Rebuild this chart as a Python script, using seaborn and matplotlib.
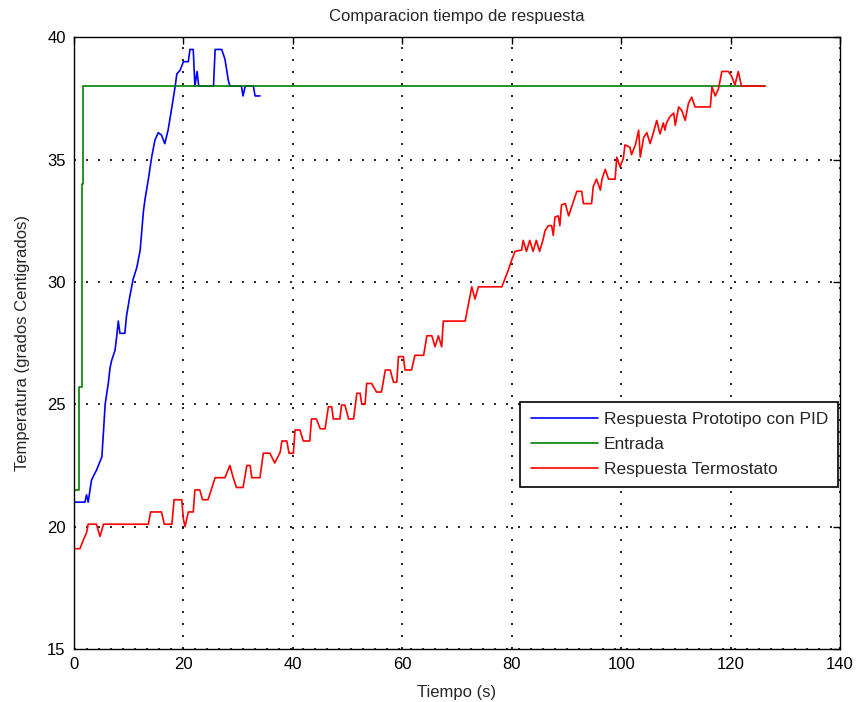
import matplotlib
matplotlib.use("Agg")
import matplotlib.pyplot as plt
import seaborn as sns
import pandas as pd

# ---- data ----
pid_t = [0, 2.0, 2.3, 2.6, 3.2, 4.1, 5.1, 5.4, 5.7, 6.3,
         6.6, 6.9, 7.5, 7.8, 8.1, 8.4, 9.3, 9.6, 10.2, 10.8,
         11.5, 12.1, 12.4, 12.7, 13.0, 13.6, 14.2, 14.8, 15.4, 16.0,
         16.6, 17.2, 17.9, 18.5, 18.8, 19.4, 20.0, 20.9, 21.2, 21.8,
         22.1, 22.5, 22.8, 25.5, 25.8, 27.0, 27.6, 28.2, 28.5, 30.6,
         30.9, 31.3, 32.8, 33.1, 34.0]
pid_y = [21.0, 21.0, 21.3, 21.0, 21.9, 22.3, 22.85, 23.9, 25.0, 25.9,
         26.5, 26.8, 27.2, 27.75, 28.4, 27.9, 27.9, 28.6, 29.4, 30.1,
         30.6, 31.3, 32.1, 32.9, 33.4, 34.2, 35.1, 35.8, 36.1, 36.0,
         35.65, 36.2, 37.15, 38.0, 38.5, 38.65, 39.0, 39.0, 39.5, 39.5,
         38.0, 38.6, 38.0, 38.0, 39.5, 39.5, 39.1, 38.25, 38.0, 38.0,
         37.6, 38.0, 38.0, 37.6, 37.6]

ent_t = [0, 1.0, 1.0, 1.4, 1.4, 1.7, 1.7, 126.3]
ent_y = [21.5, 21.5, 25.7, 25.7, 34.0, 34.0, 38.0, 38.0]

ter_t = [0, 1.1, 1.7, 2.3, 2.6, 4.1, 4.75, 5.4, 13.6, 14.0,
         16.0, 16.5, 17.9, 18.3, 19.7, 20.0, 20.3, 20.9, 21.8, 22.1,
         23.0, 23.5, 24.5, 25.8, 27.6, 28.5, 29.1, 29.7, 30.9, 31.6,
         32.2, 32.5, 34.0, 34.6, 35.8, 36.7, 37.7, 38.0, 38.9, 39.3,
         40.1, 40.4, 41.3, 41.9, 43.1, 43.4, 44.3, 45.0, 45.9, 46.5,
         47.1, 47.4, 48.6, 48.9, 49.5, 50.2, 51.1, 51.7, 52.3, 52.6,
         53.2, 53.5, 54.4, 55.3, 56.2, 56.9, 57.8, 58.4, 59.0, 59.3,
         60.2, 60.5, 61.7, 62.3, 63.9, 64.5, 65.4, 66.0, 66.6, 67.2,
         67.5, 71.5, 72.1, 72.7, 73.3, 73.9, 78.2, 78.8, 79.4, 80.0,
         80.6, 81.8, 82.1, 82.7, 83.3, 83.9, 84.5, 85.1, 85.7, 86.1,
         86.7, 87.3, 87.6, 87.9, 88.5, 88.8, 89.1, 89.8, 90.4, 91.3,
         91.9, 92.8, 93.1, 94.6, 94.9, 95.5, 96.2, 96.5, 97.1, 97.7,
         98.9, 99.2, 99.8, 100.4, 100.7, 101.6, 101.9, 102.6, 103.2, 103.5,
         104.1, 104.7, 105.3, 105.9, 106.5, 107.1, 107.7, 108.0, 108.3, 108.9,
         109.6, 109.9, 110.5, 111.1, 111.7, 112.3, 112.9, 113.5, 116.3, 116.6,
         117.2, 117.8, 118.4, 119.6, 120.2, 120.8, 121.4, 122.0, 126.3]
ter_y = [19.1, 19.1, 19.45, 19.75, 20.1, 20.1, 19.6, 20.1, 20.1, 20.6,
         20.6, 20.1, 20.1, 21.1, 21.1, 20.3, 20.0, 20.6, 20.6, 21.5,
         21.5, 21.1, 21.1, 22.0, 22.0, 22.5, 22.0, 21.6, 21.6, 22.5,
         22.5, 22.0, 22.0, 23.0, 23.0, 22.6, 23.05, 23.5, 23.5, 23.0,
         23.0, 23.95, 23.95, 23.5, 23.5, 24.4, 24.4, 24.0, 24.0, 24.9,
         24.9, 24.4, 24.4, 24.97, 24.97, 24.4, 24.4, 25.45, 25.45, 25.0,
         25.0, 25.85, 25.85, 25.5, 25.5, 26.4, 26.4, 25.9, 25.9, 26.95,
         26.95, 26.4, 26.4, 27.0, 27.0, 27.8, 27.8, 27.35, 27.8, 27.35,
         28.4, 28.4, 29.1, 29.8, 29.3, 29.8, 29.8, 30.15, 30.5, 30.9,
         31.25, 31.3, 31.7, 31.25, 31.7, 31.25, 31.7, 31.25, 31.7, 32.1,
         32.3, 32.3, 31.9, 32.65, 32.7, 32.3, 33.15, 33.2, 32.7, 33.3,
         33.7, 33.7, 33.2, 33.2, 33.9, 34.2, 33.75, 34.2, 34.6, 34.2,
         34.2, 35.1, 34.7, 35.05, 35.6, 35.5, 35.2, 35.6, 36.2, 35.1,
         35.9, 36.1, 35.65, 36.1, 36.6, 36.05, 36.5, 36.2, 36.5, 36.75,
         36.9, 36.4, 37.15, 37.0, 36.6, 37.3, 37.55, 37.15, 37.15, 37.97,
         37.6, 37.9, 38.6, 38.6, 38.4, 38.05, 38.6, 38.0, 38.0]

series_names = ["Respuesta Prototipo con PID", "Entrada", "Respuesta Termostato"]
series_colors = ["#0000ff", "#008000", "#ff0000"]
x_ticks = [0, 20, 40, 60, 80, 100, 120, 140]
y_ticks = [15, 20, 25, 30, 35, 40]

# ---- plot ----
sns.set_style("white")
plt.rcParams["font.family"] = ["Liberation Sans Narrow", "Liberation Sans", "DejaVu Sans"]

fig = plt.figure(figsize=(8.62, 7.02), dpi=100)
ax = fig.add_axes([0.0858, 0.0755, 0.8887, 0.8715])

frames = [
    pd.DataFrame({"t": pid_t, "y": pid_y}),
    pd.DataFrame({"t": ent_t, "y": ent_y}),
    pd.DataFrame({"t": ter_t, "y": ter_y}),
]
for df, name, col in zip(frames, series_names, series_colors):
    sns.lineplot(data=df, x="t", y="y", ax=ax, sort=False, estimator=None,
                 color=col, linewidth=1.2, label=name)

ax.set_xlim(0, 140)
ax.set_ylim(15, 40)
ax.set_xticks(x_ticks)
ax.set_yticks(y_ticks)
ax.grid(True, linestyle=(0, (1.2, 6)), color="black", linewidth=1.2)
ax.tick_params(direction="in", top=True, right=True, length=5, width=1,
               labelsize=12, colors="black", pad=6)
for s in ax.spines.values():
    s.set_color("black")
    s.set_linewidth(1.0)

ax.set_title("Comparacion tiempo de respuesta", fontsize=12, pad=12)
ax.set_xlabel("Tiempo (s)", fontsize=12, labelpad=9)
ax.set_ylabel("Temperatura (grados Centigrados)", fontsize=12, labelpad=12)

leg = ax.legend(loc="upper right", bbox_to_anchor=(0.998, 0.404), fontsize=12.5,
                frameon=True, fancybox=False, edgecolor="black", framealpha=1,
                borderpad=0.6, labelspacing=0.55, handlelength=3.9, handletextpad=0.3,
                borderaxespad=0.0)
leg.get_frame().set_linewidth(1.2)

fig.savefig("out.png", dpi=100)
